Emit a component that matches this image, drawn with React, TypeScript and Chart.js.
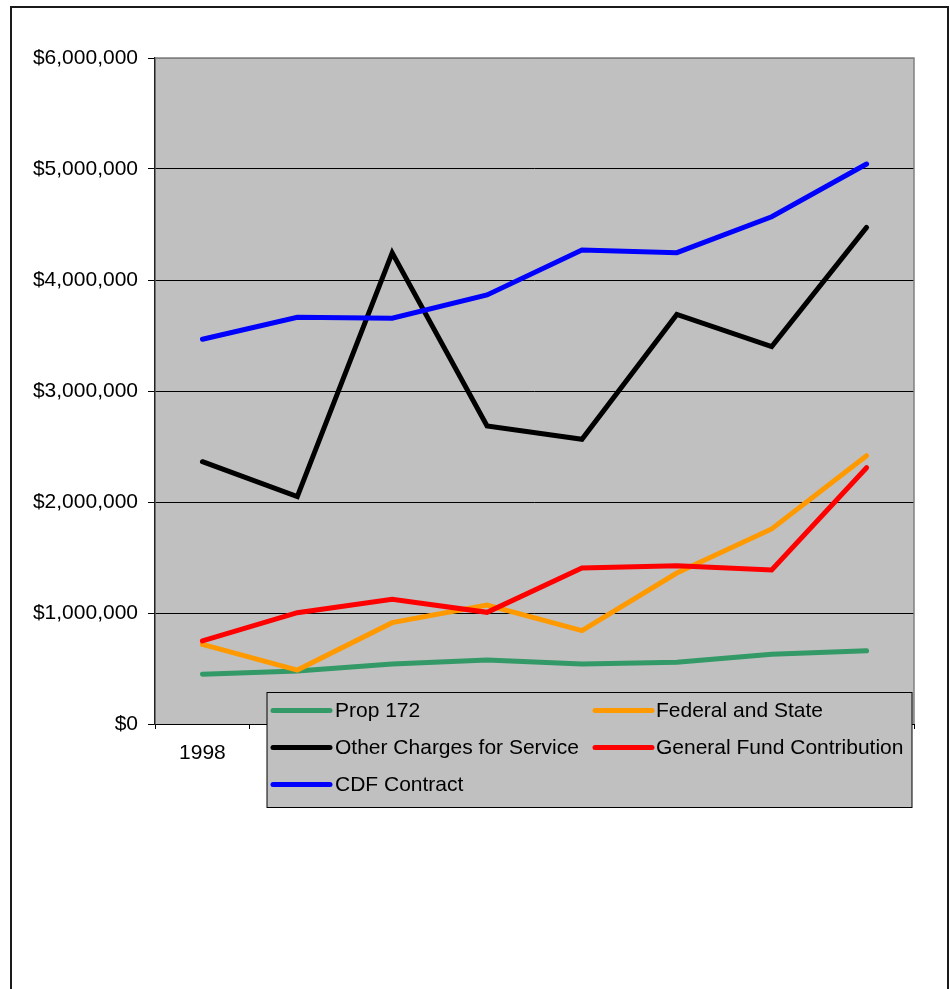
import React, { useEffect, useRef } from "react";
import { Chart, registerables } from "chart.js";

Chart.register(...registerables);

// Fiscal years along the category axis
const years = ["1998", "1999", "2000", "2001", "2002", "2003", "2004", "2005"];

// Revenue by source, in dollars
const prop172 = [448000, 477000, 540000, 577000, 540000, 556000, 628000, 660000];
const federalAndState = [718000, 486000, 913000, 1072000, 841000, 1360000, 1757000, 2417000];
const otherCharges = [2363000, 2048000, 4245000, 2685000, 2565000, 3690000, 3400000, 4474000];
const generalFund = [748000, 1003000, 1123000, 1006000, 1405000, 1426000, 1387000, 2309000];
const cdfContract = [3466000, 3664000, 3655000, 3865000, 4270000, 4246000, 4570000, 5045000];

const seriesNames = [
  "Prop 172",
  "Federal and State",
  "Other Charges for Service",
  "General Fund Contribution",
  "CDF Contract",
];
const seriesColors = ["#339966", "#FF9900", "#000000", "#FF0000", "#0000FF"];

// Y-axis range and step, in dollars
const yMin = 0;
const yMax = 6000000;
const yStep = 1000000;

const FONT = '"Liberation Sans", Arial, sans-serif';
const FONT_SIZE = 21;

const W = 950;
const H = 989;

// Outer frame and plot-area background
const framePlugin = {
  id: "frame",
  beforeDraw(chart: any) {
    const { ctx, chartArea } = chart;
    ctx.save();
    ctx.fillStyle = "#ffffff";
    ctx.fillRect(0, 0, W, H);
    ctx.strokeStyle = "#1a1a1a";
    ctx.lineWidth = 2;
    ctx.strokeRect(11, 7, 937, H + 20);
    ctx.fillStyle = "#C0C0C0";
    ctx.fillRect(chartArea.left, chartArea.top, chartArea.right - chartArea.left, chartArea.bottom - chartArea.top);
    ctx.restore();
  },
  beforeDatasetsDraw(chart: any) {
    const { ctx, chartArea } = chart;
    ctx.save();
    ctx.strokeStyle = "#808080";
    ctx.lineWidth = 1.5;
    ctx.beginPath();
    ctx.moveTo(chartArea.left, chartArea.top);
    ctx.lineTo(chartArea.right, chartArea.top);
    ctx.lineTo(chartArea.right, chartArea.bottom);
    ctx.stroke();
    ctx.restore();
  },
};

// Boxed two-column legend laid over the lower part of the chart
const boxLegendPlugin = {
  id: "boxLegend",
  afterDraw(chart: any) {
    const { ctx } = chart;
    const box = { x: 267, y: 692.5, w: 645, h: 115 };
    const cols = [
      { lineStart: 273, lineEnd: 330, text: 335 },
      { lineStart: 595, lineEnd: 652, text: 656 },
    ];
    const rowTop = 710.5;
    const rowStep = 37;
    ctx.save();
    ctx.fillStyle = "#C0C0C0";
    ctx.fillRect(box.x, box.y, box.w, box.h);
    ctx.strokeStyle = "#000";
    ctx.lineWidth = 1;
    ctx.strokeRect(box.x, box.y, box.w, box.h);
    ctx.font = `${FONT_SIZE}px ${FONT}`;
    ctx.textBaseline = "middle";
    ctx.textAlign = "left";
    chart.data.datasets.forEach((ds: any, i: number) => {
      const col = cols[i % 2];
      const y = rowTop + Math.floor(i / 2) * rowStep;
      ctx.strokeStyle = ds.borderColor;
      ctx.lineWidth = 5;
      ctx.lineCap = "round";
      ctx.beginPath();
      ctx.moveTo(col.lineStart, y);
      ctx.lineTo(col.lineEnd, y);
      ctx.stroke();
      ctx.fillStyle = "#000";
      ctx.fillText(ds.label, col.text, y + 1);
    });
    ctx.restore();
  },
};

export default function App() {
  const canvasRef = useRef<HTMLCanvasElement | null>(null);

  useEffect(() => {
    document.body.style.margin = "0";
    document.body.style.overflow = "hidden";
    const canvas = canvasRef.current;
    if (!canvas) return;
    const values = [prop172, federalAndState, otherCharges, generalFund, cdfContract];
    const chart = new Chart(canvas, {
      type: "line",
      data: {
        labels: years,
        datasets: values.map((data, i) => ({
          label: seriesNames[i],
          data,
          borderColor: seriesColors[i],
          backgroundColor: seriesColors[i],
          borderWidth: 5,
          borderCapStyle: "round",
          borderJoinStyle: "miter",
          pointRadius: 0,
          pointHoverRadius: 0,
          tension: 0,
          fill: false,
          order: 4 - i,
        })),
      },
      options: {
        animation: false,
        responsive: false,
        devicePixelRatio: 1,
        layout: { padding: { left: 0, top: 58, right: 36, bottom: 0 } },
        plugins: {
          legend: { display: false },
          tooltip: { enabled: false },
          title: { display: false },
        },
        scales: {
          x: {
            type: "category",
            offset: true,
            afterFit(scale: any) {
              scale.height = H - 724;
            },
            grid: {
              offset: true,
              drawOnChartArea: false,
              drawTicks: true,
              tickLength: 5,
              tickColor: "#000",
              tickWidth: 1,
            },
            border: { display: true, color: "#000", width: 1 },
            ticks: {
              color: "#000",
              font: { family: FONT, size: FONT_SIZE },
              padding: 12,
              maxRotation: 0,
              autoSkip: false,
            },
          },
          y: {
            min: yMin,
            max: yMax,
            afterFit(scale: any) {
              scale.width = 155;
            },
            grid: {
              color: (ctx: any) => (ctx.tick && ctx.tick.value === yMax ? "#808080" : "#000"),
              lineWidth: 1,
              drawTicks: true,
              tickLength: 7,
              tickColor: "#000",
            },
            border: { display: true, color: "#222", width: 1.5 },
            ticks: {
              stepSize: yStep,
              color: "#000",
              font: { family: FONT, size: FONT_SIZE },
              padding: 10,
              callback: (v: any) => "$" + Number(v).toLocaleString("en-US"),
            },
          },
        },
      },
      plugins: [framePlugin, boxLegendPlugin],
    } as any);
    return () => chart.destroy();
  }, []);

  return (
    <div style={{ width: W, height: H }}>
      <canvas ref={canvasRef} width={W} height={H} style={{ display: "block" }} />
    </div>
  );
}
